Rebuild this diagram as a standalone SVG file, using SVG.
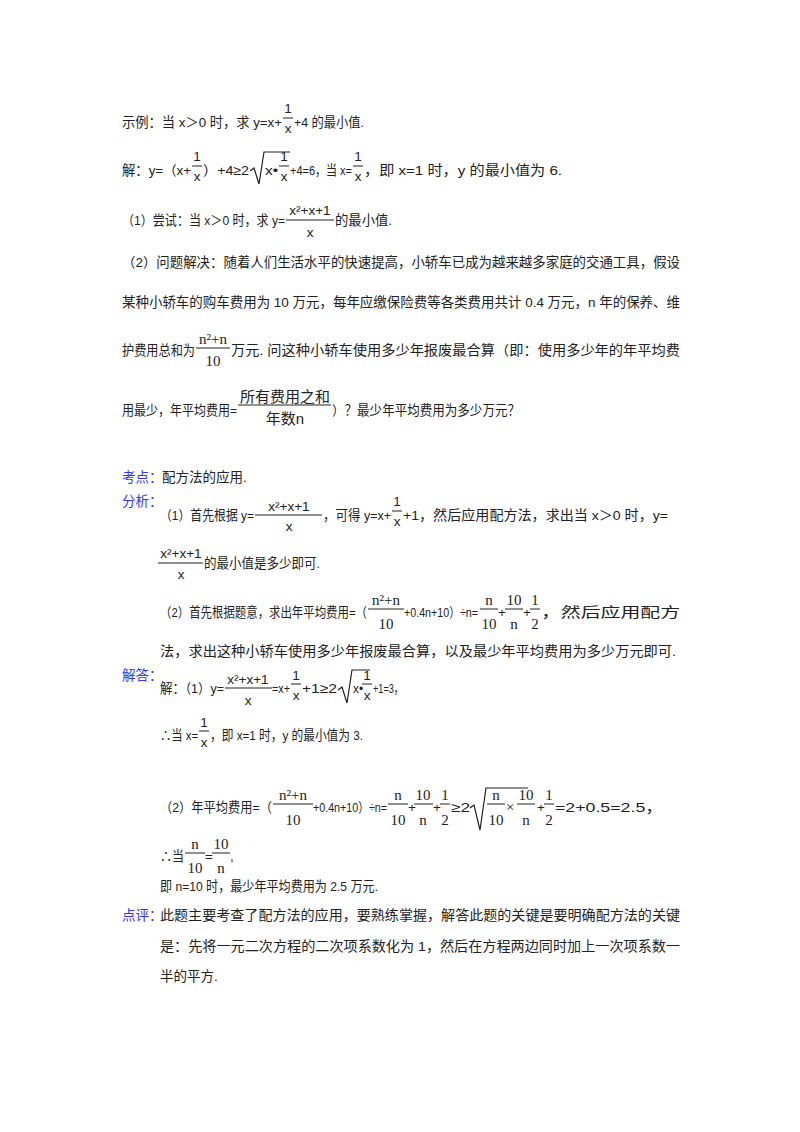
<svg xmlns="http://www.w3.org/2000/svg" width="800" height="1132" viewBox="0 0 800 1132">
<style>
text{font-family:"Liberation Sans","Noto Sans CJK SC",sans-serif;font-size:13.5px;fill:#222}
.b{fill:#3333ff}
.m{font-family:"Liberation Serif","Noto Sans CJK SC",serif;font-size:15px}
.c{text-anchor:middle}
line{stroke:#222;stroke-width:1}
path{fill:none;stroke:#222;stroke-width:1.2}
</style>
<rect width="800" height="1132" fill="#fff"/>
<g id="problem">
<text x="122" y="127" textLength="160" lengthAdjust="spacingAndGlyphs">示例：当 x＞0 时，求 y=x+</text>
<text class="c" x="288" y="113">1</text><line x1="283" y1="118" x2="293" y2="118"/><text class="c" x="288" y="133">x</text>
<text x="294" y="127" textLength="70" lengthAdjust="spacingAndGlyphs">+4 的最小值.</text>

<text x="122" y="175" textLength="69" lengthAdjust="spacingAndGlyphs">解：y=（x+</text>
<text class="c" x="197" y="161">1</text><line x1="192" y1="166" x2="202" y2="166"/><text class="c" x="197" y="181">x</text>
<text x="203" y="175" textLength="46" lengthAdjust="spacingAndGlyphs">）+4≥2</text>
<path d="M250,171 L254,168 L259,184 L264,152 L290,152"/>
<text x="265" y="175" textLength="13" lengthAdjust="spacingAndGlyphs">x•</text>
<text class="c" x="284" y="161">1</text><line x1="279" y1="166" x2="289" y2="166"/><text class="c" x="284" y="181">x</text>
<text x="290" y="175" textLength="62" lengthAdjust="spacingAndGlyphs">+4=6，当 x=</text>
<text class="c" x="358" y="161">1</text><line x1="353" y1="166" x2="363" y2="166"/><text class="c" x="358" y="181">x</text>
<text x="364" y="175" textLength="198" lengthAdjust="spacingAndGlyphs">，即 x=1 时，y 的最小值为 6.</text>

<text x="122" y="225" textLength="163" lengthAdjust="spacingAndGlyphs">（1）尝试：当 x＞0 时，求 y=</text>
<text class="c" x="310" y="215">x²+x+1</text><line x1="286" y1="220" x2="334" y2="220"/><text class="c" x="310" y="237">x</text>
<text x="335" y="225" textLength="57" lengthAdjust="spacingAndGlyphs">的最小值.</text>

<text x="122" y="267" textLength="558" lengthAdjust="spacingAndGlyphs">（2）问题解决：随着人们生活水平的快速提高，小轿车已成为越来越多家庭的交通工具，假设</text>
<text x="122" y="307" textLength="558" lengthAdjust="spacingAndGlyphs">某种小轿车的购车费用为 10 万元，每年应缴保险费等各类费用共计 0.4 万元，n 年的保养、维</text>
<text x="122" y="355" textLength="73" lengthAdjust="spacingAndGlyphs">护费用总和为</text>
<text class="c m" x="213" y="344">n²+n</text><line x1="196" y1="348" x2="230" y2="348"/><text class="c m" x="213" y="366">10</text>
<text x="231" y="355" textLength="449" lengthAdjust="spacingAndGlyphs">万元. 问这种小轿车使用多少年报废最合算（即：使用多少年的年平均费</text>
<text x="122" y="415" textLength="115" lengthAdjust="spacingAndGlyphs">用最少，年平均费用=</text>
<text class="c" x="285" y="402" style="font-size:15px">所有费用之和</text><line x1="238" y1="405" x2="331" y2="405"/><text class="c" x="285" y="424" style="font-size:15px">年数n</text>
<text x="332" y="415" textLength="188" lengthAdjust="spacingAndGlyphs">）？最少年平均费用为多少万元？</text>
</g>
<g id="analysis">
<text class="b" x="122" y="482">考点：</text><text x="162" y="482">配方法的应用.</text>
<text class="b" x="122" y="506">分析：</text>
<text x="160" y="520" textLength="94" lengthAdjust="spacingAndGlyphs">（1）首先根据 y=</text>
<text class="c" x="289" y="511">x²+x+1</text><line x1="255" y1="515" x2="322" y2="515"/><text class="c" x="289" y="531">x</text>
<text x="323" y="520" textLength="68" lengthAdjust="spacingAndGlyphs">，可得 y=x+</text>
<text class="c" x="397" y="506">1</text><line x1="392" y1="511" x2="402" y2="511"/><text class="c" x="397" y="526">x</text>
<text x="403" y="520" textLength="265" lengthAdjust="spacingAndGlyphs">+1，然后应用配方法，求出当 x＞0 时，y=</text>
<text class="c" x="181" y="558">x²+x+1</text><line x1="158" y1="563" x2="203" y2="563"/><text class="c" x="181" y="579">x</text>
<text x="204" y="568" textLength="116" lengthAdjust="spacingAndGlyphs">的最小值是多少即可.</text>
<text x="160" y="617" textLength="207" lengthAdjust="spacingAndGlyphs">（2）首先根据题意，求出年平均费用=（</text>
<text class="c m" x="386" y="605">n²+n</text><line x1="368" y1="609" x2="404" y2="609"/><text class="c m" x="386" y="629">10</text>
<text x="404" y="617" textLength="74" lengthAdjust="spacingAndGlyphs">+0.4n+10）÷n=</text>
<text class="c m" x="489" y="605">n</text><line x1="480" y1="609" x2="498" y2="609"/><text class="c m" x="489" y="629">10</text>
<text x="498" y="617">+</text>
<text class="c m" x="514" y="605">10</text><line x1="505" y1="609" x2="523" y2="609"/><text class="c m" x="514" y="629">n</text>
<text x="523" y="617">+</text>
<text class="c m" x="535" y="605">1</text><line x1="530" y1="609" x2="540" y2="609"/><text class="c m" x="535" y="629">2</text>
<text x="541" y="617" textLength="139" lengthAdjust="spacingAndGlyphs">，然后应用配方</text>
<text x="160" y="656" textLength="516" lengthAdjust="spacingAndGlyphs">法，求出这种小轿车使用多少年报废最合算，以及最少年平均费用为多少万元即可.</text>
<text class="b" x="122" y="680">解答：</text>
<text x="160" y="693" textLength="64" lengthAdjust="spacingAndGlyphs">解：（1）y=</text>
<text class="c" x="248" y="684">x²+x+1</text><line x1="225" y1="688" x2="272" y2="688"/><text class="c" x="248" y="705">x</text>
<text x="272" y="693" textLength="18" lengthAdjust="spacingAndGlyphs">=x+</text>
<text class="c" x="296" y="680">1</text><line x1="291" y1="684" x2="301" y2="684"/><text class="c" x="296" y="700">x</text>
<text x="302" y="693" textLength="35" lengthAdjust="spacingAndGlyphs">+1≥2</text>
<path d="M338,690 L342,687 L347,703 L352,670 L370,670"/>
<text x="353" y="693" textLength="10" lengthAdjust="spacingAndGlyphs">x•</text>
<text class="c" x="367" y="680">1</text><line x1="362" y1="684" x2="372" y2="684"/><text class="c" x="367" y="700">x</text>
<text x="373" y="693" textLength="30" lengthAdjust="spacingAndGlyphs">+1=3，</text>
<text x="160" y="740" textLength="38" lengthAdjust="spacingAndGlyphs">∴当 x=</text>
<text class="c" x="204" y="727">1</text><line x1="199" y1="731" x2="209" y2="731"/><text class="c" x="204" y="747">x</text>
<text x="210" y="740" textLength="153" lengthAdjust="spacingAndGlyphs">，即 x=1 时，y 的最小值为 3.</text>
<text x="160" y="812" textLength="112" lengthAdjust="spacingAndGlyphs">（2）年平均费用=（</text>
<text class="c m" x="293" y="800">n²+n</text><line x1="273" y1="804" x2="313" y2="804"/><text class="c m" x="293" y="825">10</text>
<text x="313" y="812" textLength="74" lengthAdjust="spacingAndGlyphs">+0.4n+10）÷n=</text>
<text class="c m" x="398" y="800">n</text><line x1="388" y1="804" x2="408" y2="804"/><text class="c m" x="398" y="825">10</text>
<text x="408" y="812">+</text>
<text class="c m" x="423" y="800">10</text><line x1="414" y1="804" x2="433" y2="804"/><text class="c m" x="423" y="825">n</text>
<text x="433" y="812">+</text>
<text class="c m" x="445" y="800">1</text><line x1="440" y1="804" x2="450" y2="804"/><text class="c m" x="445" y="825">2</text>
<text x="451" y="812" textLength="19" lengthAdjust="spacingAndGlyphs">≥2</text>
<path d="M470,808 L474,805 L480,830 L486,788 L528,788"/>
<text class="c m" x="496" y="800">n</text><line x1="487" y1="804" x2="505" y2="804"/><text class="c m" x="496" y="825">10</text>
<text x="506" y="812" class="m">×</text>
<text class="c m" x="526" y="800">10</text><line x1="517" y1="804" x2="535" y2="804"/><text class="c m" x="526" y="825">n</text>
<text x="537" y="812">+</text>
<text class="c m" x="549" y="800">1</text><line x1="544" y1="804" x2="554" y2="804"/><text class="c m" x="549" y="825">2</text>
<text x="555" y="812" textLength="108" lengthAdjust="spacingAndGlyphs">=2+0.5=2.5，</text>
<text x="160" y="861" textLength="24" lengthAdjust="spacingAndGlyphs">∴当</text>
<text class="c m" x="195" y="849">n</text><line x1="185" y1="853" x2="205" y2="853"/><text class="c m" x="195" y="873">10</text>
<text x="205" y="861">=</text>
<text class="c m" x="221" y="849">10</text><line x1="212" y1="853" x2="230" y2="853"/><text class="c m" x="221" y="873">n</text>
<text x="230" y="861">,</text>
<text x="160" y="891" textLength="218" lengthAdjust="spacingAndGlyphs">即 n=10 时，最少年平均费用为 2.5 万元.</text>
<text class="b" x="122" y="920">点评：</text>
<text x="160" y="920" textLength="520" lengthAdjust="spacingAndGlyphs">此题主要考查了配方法的应用，要熟练掌握，解答此题的关键是要明确配方法的关键</text>
<text x="160" y="951" textLength="520" lengthAdjust="spacingAndGlyphs">是：先将一元二次方程的二次项系数化为 1，然后在方程两边同时加上一次项系数一</text>
<text x="160" y="981">半的平方.</text>
</g>
</svg>
